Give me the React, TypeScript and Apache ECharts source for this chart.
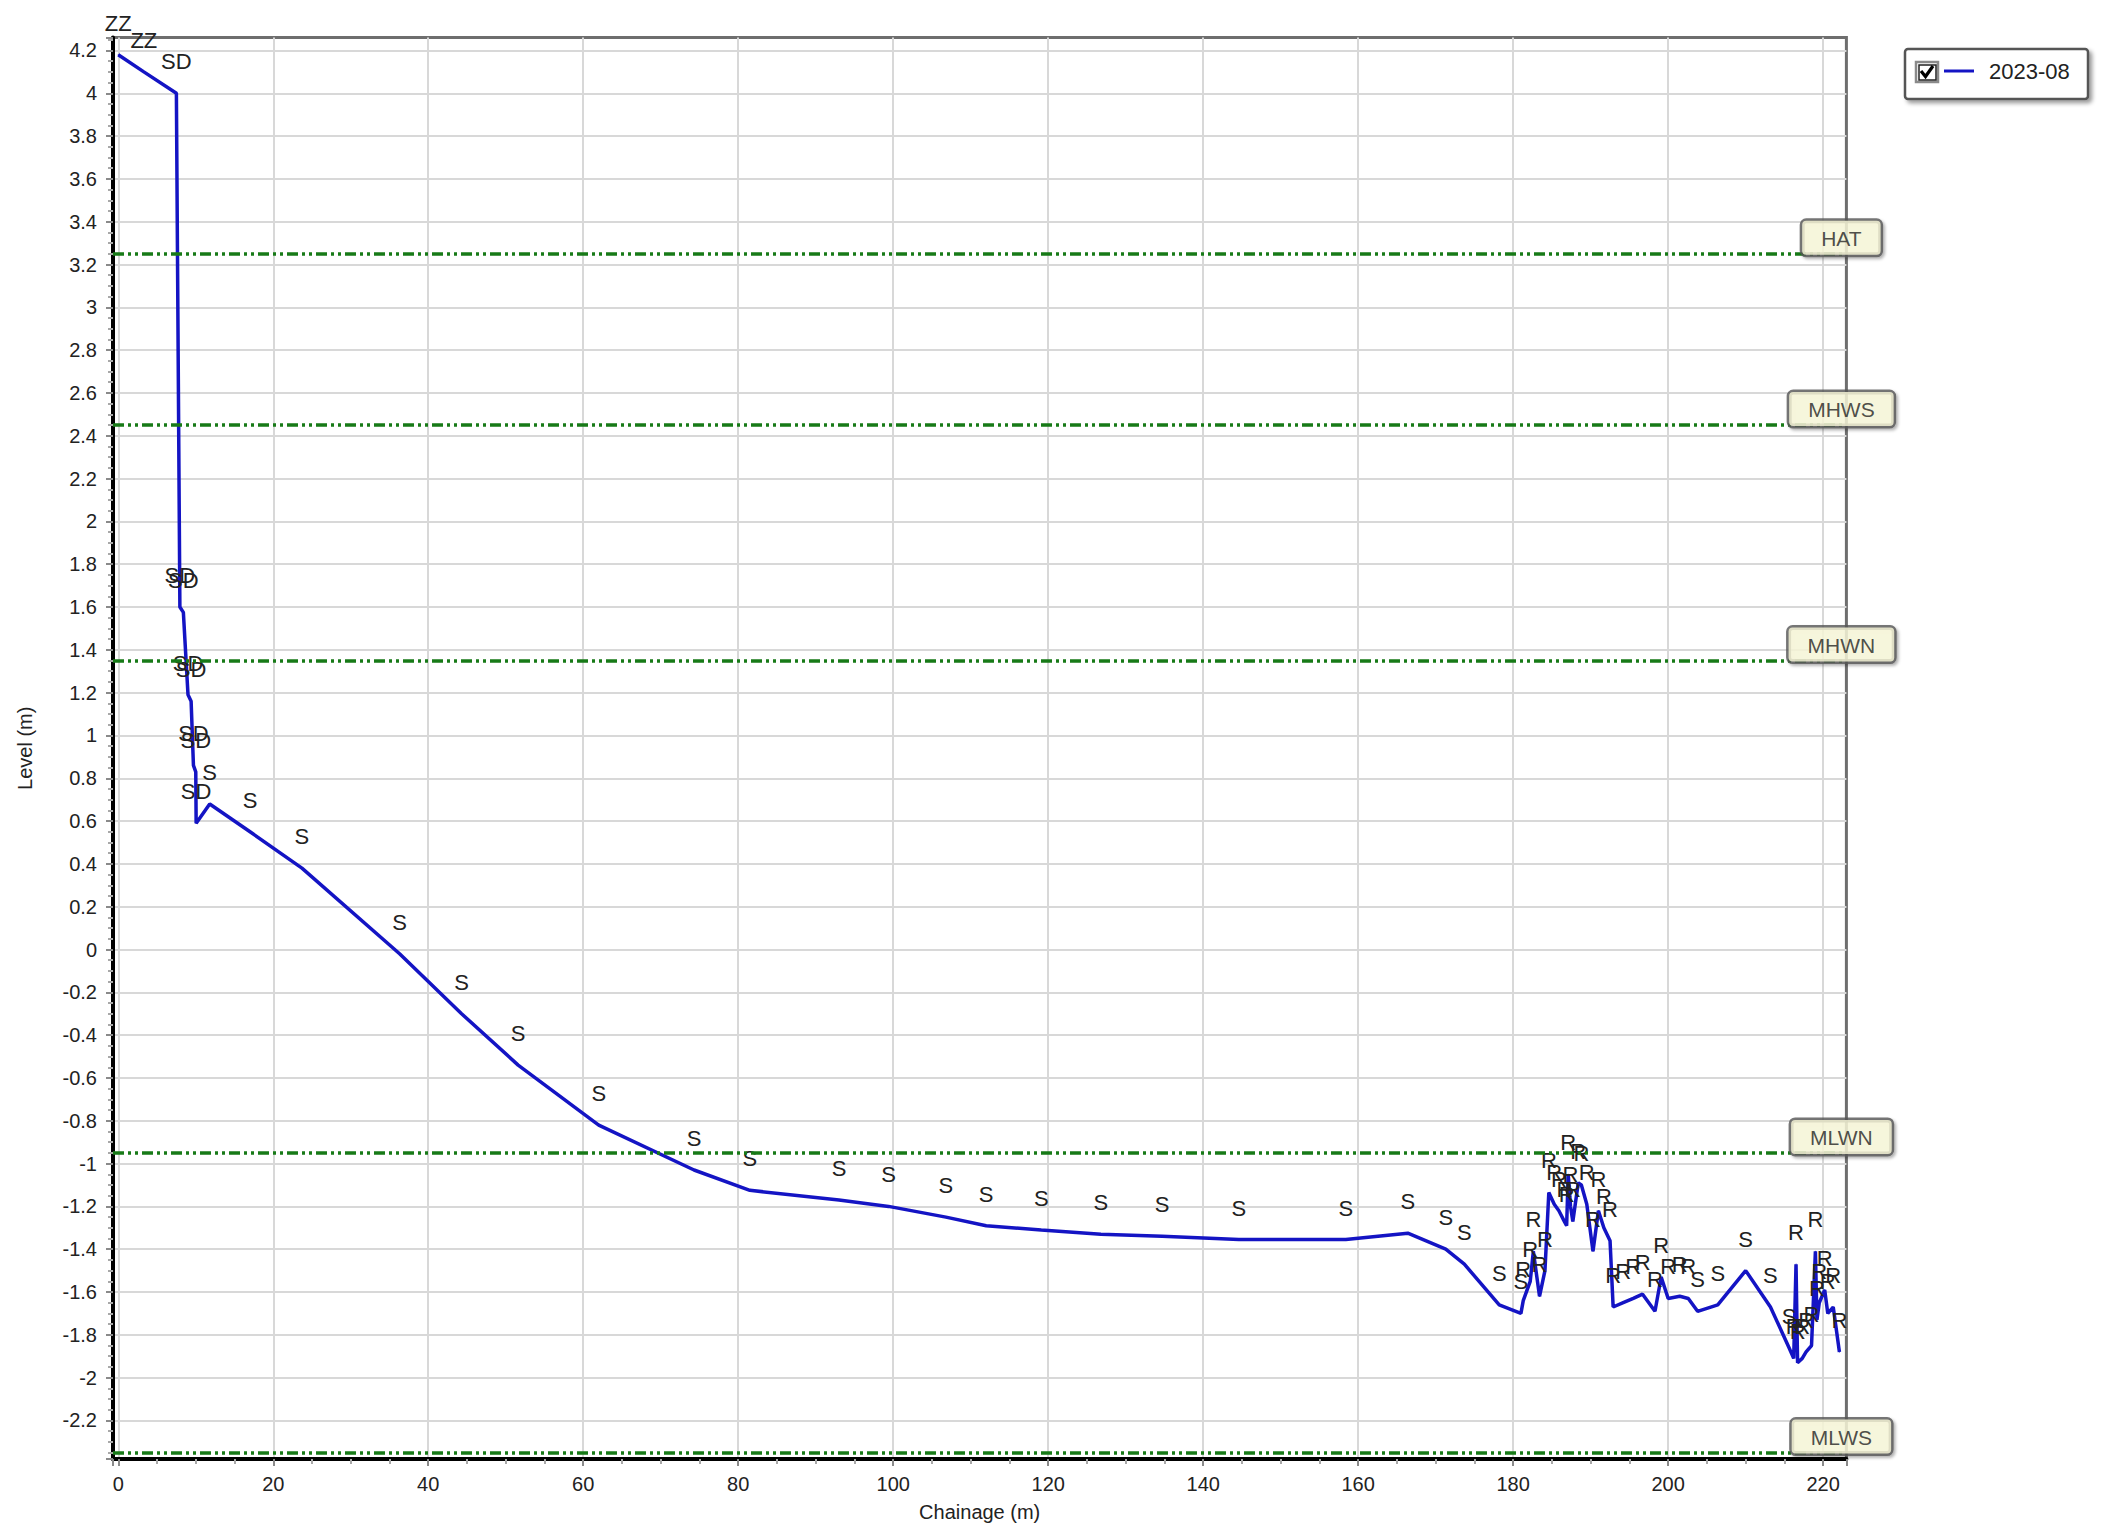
import React, { useEffect, useRef } from "react";
import * as echarts from "echarts";

// ---------- data ----------
const seriesName = "2023-08";

const chainage = [
  0, 3.3, 7.5, 7.95, 8.4, 9.0, 9.4, 9.7, 10.0, 10.05, 11.8, 17.0, 23.7, 36.3, 44.3, 51.6, 62.0, 74.3,
  81.5, 93.0, 99.4, 106.8, 112.0, 119.1, 126.8, 134.7, 144.6, 158.4, 166.4, 171.3, 173.7, 178.2,
  181.0, 181.3, 182.2, 182.6, 183.4, 184.1, 184.6, 185.3, 185.9, 186.6, 186.9, 187.1, 187.4, 187.7,
  188.4, 188.8, 189.5, 190.3, 191.0, 191.7, 192.5, 192.9, 194.2, 195.5, 196.7, 198.3, 199.1, 200.0,
  201.5, 202.6, 203.8, 206.4, 210.0, 213.2, 215.6, 216.2, 216.5, 216.7, 217.3, 217.8, 218.5, 219.0,
  219.2, 219.5, 220.2, 220.6, 221.3, 222.1,
];

const level = [
  4.18, 4.1, 4.0, 1.6, 1.575, 1.19, 1.16, 0.86, 0.83, 0.59, 0.68, 0.55, 0.38, -0.02, -0.3, -0.54, -0.82, -1.03,
  -1.125, -1.17, -1.2, -1.25, -1.29, -1.31, -1.33, -1.34, -1.355, -1.355, -1.325, -1.4, -1.47, -1.66,
  -1.7, -1.64, -1.55, -1.41, -1.62, -1.5, -1.135, -1.19, -1.22, -1.27, -1.29, -1.05, -1.2, -1.27,
  -1.09, -1.1, -1.19, -1.41, -1.22, -1.3, -1.36, -1.67, -1.65, -1.63, -1.61, -1.69, -1.53, -1.63,
  -1.62, -1.63, -1.69, -1.66, -1.5, -1.67, -1.86, -1.91, -1.47, -1.93, -1.91, -1.88, -1.85, -1.41,
  -1.73, -1.65, -1.59, -1.7, -1.67, -1.88,
];

const codes = [
  "ZZ", "ZZ", "SD", "SD", "SD", "SD", "SD", "SD", "SD", "SD", "S", "S", "S", "S", "S", "S", "S", "S",
  "S", "S", "S", "S", "S", "S", "S", "S", "S", "S", "S", "S", "S", "S",
  "S", "R", "R", "R", "R", "R", "R", "R", "R", "R", "R", "R", "R", "R",
  "R", "R", "R", "R", "R", "R", "R", "R", "R", "R", "R", "R", "R", "R",
  "R", "R", "S", "S", "S", "S", "S", "R", "R", "R", "R", "R", "R", "R",
  "R", "R", "R", "R", "R", "R",
];

const tideNames = ["HAT", "MHWS", "MHWN", "MLWN", "MLWS"];
const tideLevels = [3.25, 2.45, 1.35, -0.95, -2.35];

const X_MIN = -0.68;
const X_MAX = 223;
const Y_MIN = -2.38;
const Y_MAX = 4.26;

// ---------- styles ----------
const FONT = '"Liberation Sans", Arial, Helvetica, sans-serif';
const BLUE = "#1414c4";
const GREEN = "#177a17";
const TEXT = "#222";

export default function App() {
  const ref = useRef<HTMLDivElement | null>(null);

  useEffect(() => {
    document.body.style.margin = "0";
    if (!ref.current) return;
    const chart = echarts.init(ref.current, undefined, { renderer: "svg" });

    const profile = chainage.map((c, i) => [c, level[i]]);
    const tidePts = tideLevels.map((v) => [X_MAX, v]);

    const option: any = {
      animation: false,
      backgroundColor: "#ffffff",
      textStyle: { fontFamily: FONT },
      grid: {
        left: 113,
        top: 37.6,
        width: 1733.4,
        height: 1421.4,
        show: true,
        borderColor: "#6e6e6e",
        borderWidth: 3,
        backgroundColor: "transparent",
      },
      legend: {
        data: [seriesName],
        left: 1944,
        top: 60,
        padding: 0,
        icon: "rect",
        itemWidth: 30,
        itemHeight: 3,
        selectedMode: false,
        textStyle: { fontSize: 22, color: TEXT, fontFamily: FONT, padding: [0, 0, 0, 10] },
        z: 20,
      },
      xAxis: {
        type: "value",
        min: X_MIN,
        max: X_MAX,
        splitNumber: 11,
        name: "Chainage (m)",
        nameLocation: "middle",
        nameGap: 43,
        nameTextStyle: { fontSize: 20, color: TEXT, fontFamily: FONT },
        axisLine: { show: true, onZero: false, lineStyle: { color: "#000", width: 4 } },
        axisTick: { show: true, length: 7, lineStyle: { color: "#8a8a8a", width: 2 } },
        minorTick: { show: true, splitNumber: 4, length: 5, lineStyle: { color: "#a8a8a8", width: 2 } },
        axisLabel: {
          fontSize: 20,
          color: TEXT,
          fontFamily: FONT,
          margin: 15,
          showMinLabel: false,
          showMaxLabel: false,
        },
        splitLine: {
          show: true,
          showMinLine: false,
          showMaxLine: false,
          lineStyle: { color: "#d8d8d8", width: 2 },
        },
      },
      yAxis: {
        type: "value",
        min: Y_MIN,
        max: Y_MAX,
        splitNumber: 33,
        name: "Level (m)",
        nameLocation: "middle",
        nameGap: 78,
        nameTextStyle: { fontSize: 20, color: TEXT, fontFamily: FONT },
        axisLine: { show: true, onZero: false, lineStyle: { color: "#000", width: 4 } },
        axisTick: { show: true, length: 7, lineStyle: { color: "#8a8a8a", width: 2 } },
        minorTick: { show: true, splitNumber: 4, length: 5, lineStyle: { color: "#a8a8a8", width: 2 } },
        axisLabel: {
          fontSize: 20,
          color: TEXT,
          fontFamily: FONT,
          margin: 16,
          showMinLabel: false,
          showMaxLabel: false,
        },
        splitLine: {
          show: true,
          showMinLine: false,
          showMaxLine: false,
          lineStyle: { color: "#d8d8d8", width: 2 },
        },
      },
      series: [
        {
          name: seriesName,
          type: "line",
          data: profile,
          symbol: "circle",
          symbolSize: 1,
          showSymbol: true,
          clip: false,
          z: 4,
          lineStyle: { color: BLUE, width: 3.5 },
          itemStyle: { color: BLUE },
          label: {
            show: true,
            position: "top",
            distance: 20,
            fontSize: 22,
            color: TEXT,
            fontFamily: FONT,
            formatter: (p: any) => codes[p.dataIndex],
          },
          markLine: {
            silent: true,
            symbol: ["none", "none"],
            label: { show: false },
            lineStyle: { color: GREEN, width: 3.5, type: [11, 4, 3, 4, 3, 4] },
            data: tideLevels.map((v) => ({ yAxis: v })),
          },
        },
        {
          name: "tide",
          type: "scatter",
          data: tidePts,
          symbolSize: 0,
          clip: false,
          silent: true,
          z: 10,
          itemStyle: { color: "transparent" },
          label: {
            show: true,
            position: "top",
            distance: 0,
            offset: [-5, 1],
            fontSize: 21,
            color: TEXT,
            fontFamily: FONT,
            backgroundColor: "#fdfbdc",
            borderColor: "#555",
            borderWidth: 2.5,
            borderRadius: 4,
            padding: [7, 19, 6, 19],
            shadowColor: "rgba(0,0,0,0.35)",
            shadowBlur: 3,
            shadowOffsetX: 2,
            shadowOffsetY: 2,
            formatter: (p: any) => tideNames[p.dataIndex],
          },
        },
      ],
      graphic: [
        {
          type: "rect",
          z: 15,
          shape: { x: 1905, y: 49, width: 183, height: 50, r: 3 },
          style: {
            fill: "#ffffff",
            stroke: "#555",
            lineWidth: 2.5,
            shadowColor: "rgba(0,0,0,0.4)",
            shadowBlur: 4,
            shadowOffsetX: 3,
            shadowOffsetY: 3,
          },
        },
        {
          type: "rect",
          z: 16,
          shape: { x: 1916, y: 62, width: 22, height: 20 },
          style: { fill: "#ffffff", stroke: "#8a8a8a", lineWidth: 2.5 },
        },
        {
          type: "rect",
          z: 16,
          shape: { x: 1919, y: 65, width: 17, height: 15 },
          style: { fill: "#ffffff", stroke: "#222", lineWidth: 1.5 },
        },
        {
          type: "polyline",
          z: 17,
          shape: { points: [[1921, 71], [1925.5, 76.5], [1933, 66]] },
          style: { stroke: "#000", lineWidth: 3.2, fill: "none" },
        },
      ],
    };

    chart.setOption(option);
    return () => {
      chart.dispose();
    };
  }, []);

  return <div ref={ref} style={{ width: 2107, height: 1528 }} />;
}
